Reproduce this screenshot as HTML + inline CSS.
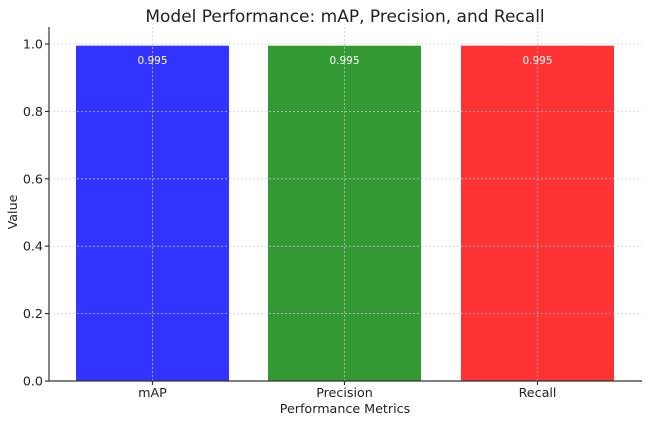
<!DOCTYPE html>
<html><head><style>body{margin:0;background:#fff}</style></head><body>
<svg width="650" height="422" xmlns="http://www.w3.org/2000/svg" font-family="DejaVu Sans, sans-serif">
<rect width="650" height="422" fill="#fff"/>
<text x="345" y="22" font-size="17" text-anchor="middle" fill="#222">Model Performance: mAP, Precision, and Recall</text>
<rect x="76" y="45.7" width="153" height="335.3" fill="#3333ff"/>
<rect x="268" y="45.7" width="153" height="335.3" fill="#339933"/>
<rect x="461" y="45.7" width="153" height="335.3" fill="#ff3333"/>
<g stroke="#ccc" stroke-width="0.8" stroke-dasharray="2,2" opacity="0.9">
<line x1="49" x2="642" y1="44" y2="44"/><line x1="49" x2="642" y1="111.4" y2="111.4"/>
<line x1="49" x2="642" y1="178.8" y2="178.8"/><line x1="49" x2="642" y1="246.2" y2="246.2"/>
<line x1="49" x2="642" y1="313.6" y2="313.6"/>
<line x1="152.5" x2="152.5" y1="27" y2="381"/><line x1="344.5" x2="344.5" y1="27" y2="381"/><line x1="537.5" x2="537.5" y1="27" y2="381"/>
</g>
<g stroke="#333" stroke-width="1.2"><line x1="49" y1="27" x2="49" y2="381"/><line x1="49" y1="381" x2="642" y2="381"/>
<line x1="45" x2="49" y1="44" y2="44"/><line x1="45" x2="49" y1="111.4" y2="111.4"/><line x1="45" x2="49" y1="178.8" y2="178.8"/><line x1="45" x2="49" y1="246.2" y2="246.2"/><line x1="45" x2="49" y1="313.6" y2="313.6"/><line x1="45" x2="49" y1="381" y2="381"/>
<line x1="152.5" x2="152.5" y1="381" y2="385"/><line x1="344.5" x2="344.5" y1="381" y2="385"/><line x1="537.5" x2="537.5" y1="381" y2="385"/></g>
<g font-size="12.7" fill="#222" text-anchor="end">
<text x="43" y="48.5">1.0</text><text x="43" y="115.9">0.8</text><text x="43" y="183.3">0.6</text><text x="43" y="250.7">0.4</text><text x="43" y="318.1">0.2</text><text x="43" y="385.5">0.0</text></g>
<g font-size="12.7" fill="#222" text-anchor="middle">
<text x="152.5" y="397">mAP</text><text x="344.5" y="397">Precision</text><text x="537.5" y="397">Recall</text>
<text x="345" y="413">Performance Metrics</text></g>
<text transform="translate(17,212) rotate(-90)" font-size="12.7" fill="#222" text-anchor="middle">Value</text>
<g font-size="10.5" fill="#fff" text-anchor="middle"><text x="152.5" y="64">0.995</text><text x="344.5" y="64">0.995</text><text x="537.5" y="64">0.995</text></g>
</svg>
</body></html>
